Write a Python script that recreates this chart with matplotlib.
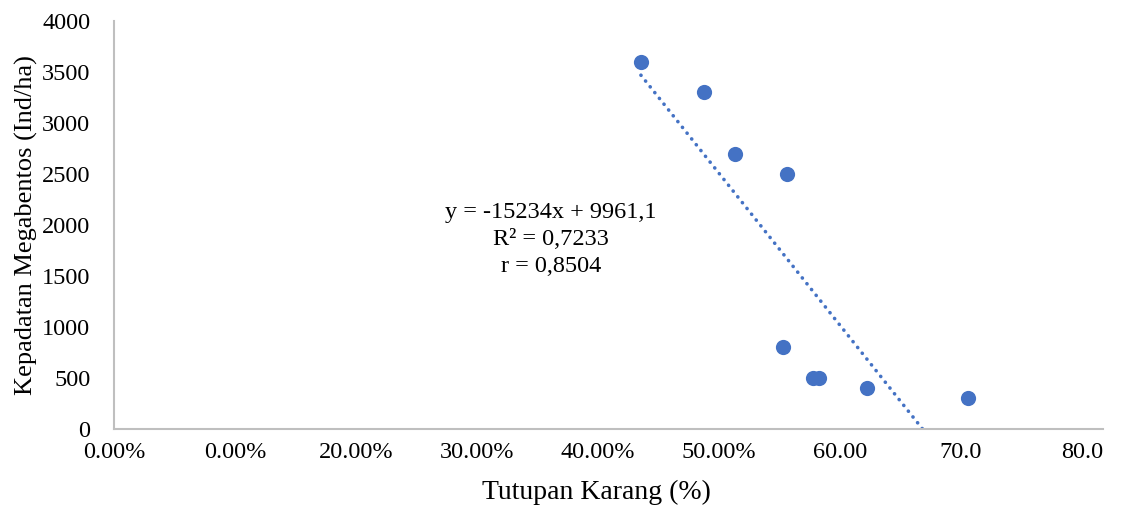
import numpy as np
import matplotlib
matplotlib.use("Agg")
import matplotlib.pyplot as plt

plt.rcParams['font.family'] = ['Liberation Serif', 'DejaVu Serif']

# data
tutupan = [0.4355, 0.488, 0.513, 0.556, 0.553, 0.578, 0.5826, 0.6226, 0.706]
kepadatan = [3600, 3300, 2700, 2500, 800, 500, 500, 400, 300]

xticks = [0.0, 0.1, 0.2, 0.3, 0.4, 0.5, 0.6, 0.7, 0.8]
xticklabels = ["0.00%", "0.00%", "20.00%", "30.00%", "40.00%", "50.00%",
               "60.00", "70.0", "80.0"]
yticks = [0, 500, 1000, 1500, 2000, 2500, 3000, 3500, 4000]

eq_text = "y = -15234x + 9961,1\nR² = 0,7233\nr = 0,8504"

blue = "#4472C4"
grey = "#BFBFBF"

fig = plt.figure(figsize=(11.42, 5.08), dpi=100)
ax = fig.add_axes([114 / 1142, 1 - 429 / 508, (1103 - 114) / 1142, (429 - 21) / 508])

ax.scatter(tutupan, kepadatan, s=120, color=blue, zorder=3, linewidths=0)

# linear trendline
k, b = np.polyfit(tutupan, kepadatan, 1)
xs = np.array([min(tutupan), max(tutupan)])
ax.plot(xs, k * xs + b, color=blue, lw=2.6, linestyle=(0, (0.05, 2.0)),
        dash_capstyle='round', zorder=2)

ax.set_xlim(0, 0.8174)
ax.set_ylim(0, 4000)
ax.set_xticks(xticks)
ax.set_xticklabels(xticklabels)
ax.set_yticks(yticks)

for s in ['top', 'right']:
    ax.spines[s].set_visible(False)
for s in ['left', 'bottom']:
    ax.spines[s].set_color(grey)
    ax.spines[s].set_linewidth(1.5)

ax.tick_params(axis='both', length=0, labelsize=17.5, colors='black')
ax.tick_params(axis='y', pad=17)
ax.tick_params(axis='x', pad=9)

ax.set_xlabel("Tutupan Karang (%)", fontsize=20)
ax.xaxis.set_label_coords(0.488, -0.125)
ax.set_ylabel("Kepadatan Megabentos (Ind/ha)", fontsize=19, labelpad=3)

ax.text(0.361, 1860, eq_text, fontsize=17.5, ha='center', va='center',
        linespacing=1.38)

fig.savefig("out.png", dpi=100)
